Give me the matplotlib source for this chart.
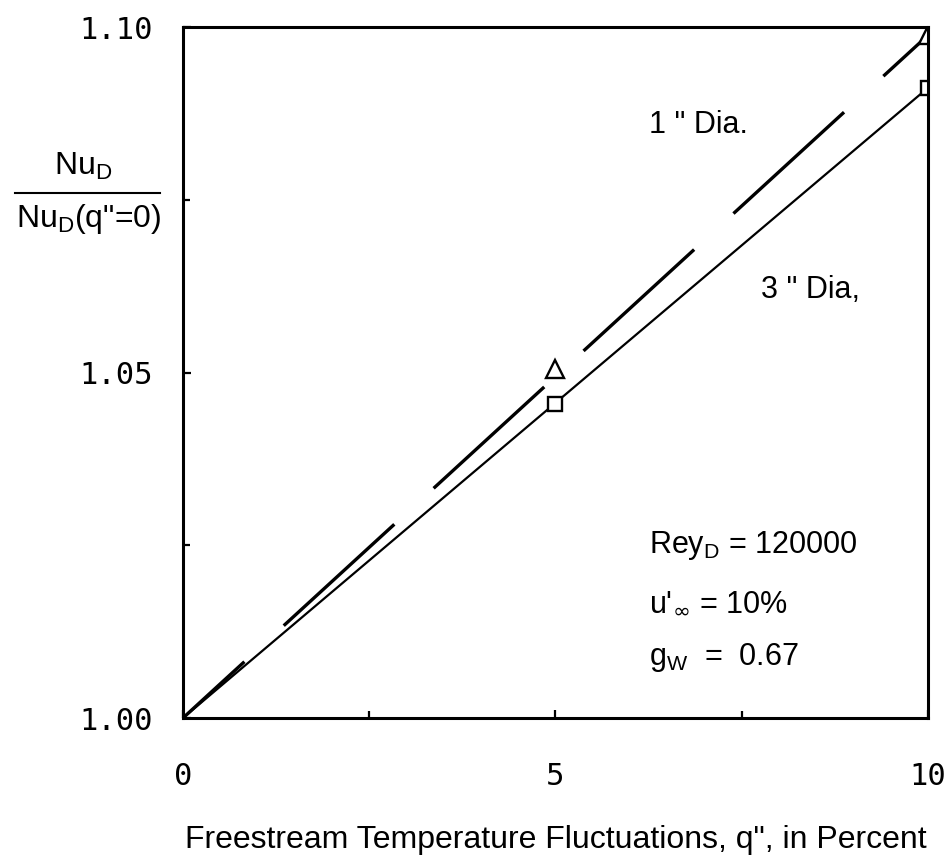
import matplotlib
matplotlib.use("Agg")
import matplotlib.pyplot as plt
from matplotlib.lines import Line2D

# data
q_fit = [0, 10]
fit_1in = [1.000, 1.0988]   # dashed, 1" dia
fit_3in = [1.000, 1.0912]   # solid, 3" dia
q_pts = [5, 10]
pts_1in = [1.0505, 1.0988]  # triangles
pts_3in = [1.0455, 1.0912]  # squares

x_ticks = [0, 5, 10]
x_minor = [2.5, 7.5]
y_ticks = [1.00, 1.05, 1.10]
y_minor = [1.025, 1.075]
y_ticklabels = ['1.00', '1.05', '1.10']

txt_font = 'Liberation Sans'
tick_font = 'DejaVu Sans Mono'

fig = plt.figure(figsize=(9.5, 8.66), dpi=100)
ax = fig.add_axes([0.1926, 0.1709, 0.7842, 0.7979])

ax.plot(q_fit, fit_1in, color='black', lw=2.4, linestyle=(20, (45, 16)))
ax.plot(q_fit, fit_3in, color='black', lw=1.6)
ax.plot(q_pts, pts_1in, linestyle='none', marker='^', ms=13, mfc='white',
        mec='black', mew=1.7)
ax.plot(q_pts, pts_3in, linestyle='none', marker='s', ms=10, mfc='white',
        mec='black', mew=1.7)

ax.set_xlim(0, 10)
ax.set_ylim(1.0, 1.1)
ax.set_xticks(x_ticks)
ax.set_xticks(x_minor, minor=True)
ax.set_yticks(y_ticks)
ax.set_yticks(y_minor, minor=True)
ax.set_yticklabels(y_ticklabels)
ax.tick_params(which='both', direction='in', width=1.6, color='black')
ax.tick_params(which='major', length=6)
ax.tick_params(which='minor', length=5)
ax.tick_params(axis='y', pad=22)
ax.tick_params(axis='x', pad=32)
for lab in ax.get_xticklabels() + ax.get_yticklabels():
    lab.set_fontfamily(tick_font)
    lab.set_fontsize(22)
for sp in ax.spines.values():
    sp.set_linewidth(2.2)

ax.set_xlabel('Freestream Temperature Fluctuations, q", in Percent',
              fontfamily=txt_font, fontsize=23, labelpad=24)

# y label written as a fraction
fig.text(0.088, 0.8075, r'Nu$_\mathregular{D}$', fontfamily=txt_font,
         fontsize=23, ha='center', va='center')
fig.text(0.093, 0.747, r'Nu$_\mathregular{D}$(q"=0)', fontfamily=txt_font,
         fontsize=23, ha='center', va='center')
fig.add_artist(Line2D([0.016, 0.168], [0.777, 0.777], color='black', lw=1.5,
                      transform=fig.transFigure))

ax.text(6.25, 1.0858, '1 " Dia.', fontfamily=txt_font, fontsize=22,
        va='center')
ax.text(7.76, 1.0620, '3 " Dia,', fontfamily=txt_font, fontsize=22,
        va='center')
ax.text(6.25, 1.0250, r'Rey$_\mathregular{D}$ = 120000', fontfamily=txt_font,
        fontsize=22, va='center')
ax.text(6.25, 1.0167, r"u'$_\infty$ = 10%", fontfamily=txt_font, fontsize=22,
        va='center')
ax.text(6.25, 1.0088, r'g$_\mathregular{W}$  =  0.67', fontfamily=txt_font,
        fontsize=22, va='center')

fig.savefig('out.png', dpi=100)
